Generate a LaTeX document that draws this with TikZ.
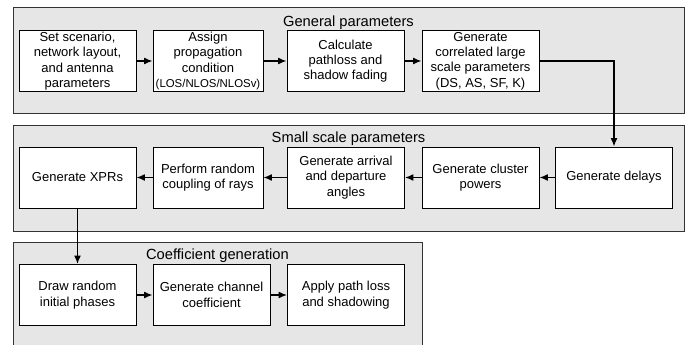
\documentclass[tikz,border=0pt]{standalone}
\usepackage{fontspec}
\setmainfont{Liberation Sans}
\usetikzlibrary{arrows.meta}
\definecolor{panelfill}{HTML}{E6E6E6}
\definecolor{panelline}{HTML}{333333}
\tikzset{
  panel/.style={draw=panelline, fill=panelfill, line width=1pt},
  title/.style={anchor=base, inner sep=0pt, font=\fontsize{14.7}{16}\selectfont},
  stepbox/.style={draw=black, fill=white, line width=0.9pt, inner sep=0pt,
    minimum height=61pt, align=center, font=\fontsize{13}{15.3}\selectfont},
  wA/.style={minimum width=117pt},
  wB/.style={minimum width=110pt},
  arr/.style={-{Latex[length=8.5pt,width=7pt]}, line width=1.4pt},
}
\begin{document}
\begin{tikzpicture}[x=1pt,y=-1pt]
\useasboundingbox (0,0) rectangle (688,345);
\clip (0,0) rectangle (688,345);
% panels
\path[panel] (13,7.5) rectangle (684,113);
\path[panel] (13,125) rectangle (684,231);
\path[panel] (13,242) rectangle (422,360);
\node[title] (t1) at (348.5,26.3) {General parameters};
\node[title] (t2) at (348.5,142.3) {Small scale parameters};
\node[title] (t3) at (217.5,259.3) {Coefficient generation};
% row 1
\node[stepbox,wA] (a1) at (77.5,61) {Set scenario,\\network layout,\\and antenna\\parameters};
\node[stepbox,wB] (a2) at (208,61) {Assign\\propagation\\condition\\{\fontsize{11.4}{13}\selectfont(LOS/NLOS/NLOSv)}};
\node[stepbox,wA] (a3) at (345.5,61) {Calculate\\pathloss and\\shadow fading};
\node[stepbox,wA] (a4) at (480.5,61) {Generate\\correlated large\\scale parameters\\(DS, AS, SF, K)};
% row 2
\node[stepbox,wA] (b1) at (77.5,177.5) {Generate XPRs};
\node[stepbox,wB] (b2) at (208,177.5) {Perform random\\coupling of rays};
\node[stepbox,wA] (b3) at (346,177.5) {Generate arrival\\and departure\\angles};
\node[stepbox,wA] (b4) at (480.5,177.5) {Generate cluster\\powers};
\node[stepbox,wA] (b5) at (614,177.5) {Generate delays};
% row 3
\node[stepbox,wA] (c1) at (77.5,295) {Draw random\\initial phases};
\node[stepbox,wA] (c2) at (211.5,295) {Generate channel\\coefficient};
\node[stepbox,wA] (c3) at (346,295) {Apply path loss\\and shadowing};
% connectors
\draw[arr] (a1) -- (a2);
\draw[arr] (a2) -- (a3);
\draw[arr] (a3) -- (a4);
\draw[arr] (a4.east) -| (b5.north);
\draw[arr] (b5) -- (b4);
\draw[arr] (b4) -- (b3);
\draw[arr] (b3) -- (b2);
\draw[arr] (b2) -- (b1);
\draw[arr] (b1.south) -- (c1.north);
\draw[arr] (c1) -- (c2);
\draw[arr] (c2) -- (c3);
\end{tikzpicture}
\end{document}
